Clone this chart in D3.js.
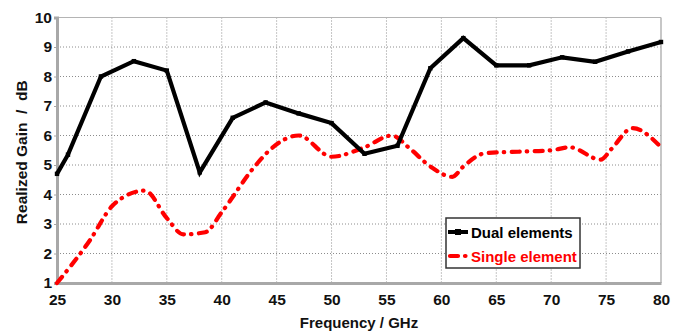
<!DOCTYPE html>
<html>
<head>
<meta charset="utf-8">
<script src="https://cdn.jsdelivr.net/npm/d3@7"></script>
<style>
  html, body { margin: 0; padding: 0; background: #fff; }
  svg { display: block; font-family: "Liberation Sans", Arial, sans-serif; font-weight: bold; }
</style>
</head>
<body>
<svg id="chart" width="688" height="333"></svg>
<script>
// Realized gain vs frequency for the dual-element and single-element antennas
const dualFreq  = [25, 26, 29, 32, 35, 38, 41, 44, 47, 50, 53, 56, 59, 62, 65, 68, 71, 74, 77, 80];
const dualGain  = [4.7, 5.35, 8.0, 8.52, 8.2, 4.75, 6.6, 7.12, 6.75, 6.42, 5.38, 5.65, 8.28, 9.3, 8.38, 8.38, 8.65, 8.5, 8.85, 9.17];

const singleFreq = [25, 28, 30, 31, 33, 35, 36.5, 38.5, 40, 43, 44.5, 47, 50, 53, 55.5, 57, 59, 61, 62, 64, 67, 70, 71.7, 74.5, 75.5, 77.4, 80];
const singleGain = [1.0, 2.45, 3.6, 3.9, 4.13, 3.2, 2.65, 2.72, 3.4, 4.95, 5.55, 6.0, 5.28, 5.6, 6.0, 5.6, 4.95, 4.6, 4.95, 5.4, 5.45, 5.5, 5.6, 5.18, 5.55, 6.25, 5.6];

const xTicks = [25, 30, 35, 40, 45, 50, 55, 60, 65, 70, 75, 80];
const yTicks = [1, 2, 3, 4, 5, 6, 7, 8, 9, 10];

const seriesNames = ["Dual elements", "Single element"];
const xTitle = "Frequency / GHz";
const yTitle = "Realized Gain  /  dB";

const svg = d3.select("#chart");
const plot = { left: 57, right: 661, top: 17.5, bottom: 283 };

const x = d3.scaleLinear().domain([25, 80]).range([plot.left, plot.right]);
const y = d3.scaleLinear().domain([1, 10]).range([plot.bottom, plot.top]);

// dotted grid
const grid = svg.append("g");
grid.selectAll("line.v").data(xTicks.slice(1, -1)).join("line")
  .attr("x1", d => x(d)).attr("x2", d => x(d))
  .attr("y1", plot.top).attr("y2", plot.bottom)
  .attr("stroke", "#8c8c8c").attr("stroke-width", 1).attr("stroke-dasharray", "1,2");
grid.selectAll("line.h").data(yTicks.slice(1, -1)).join("line")
  .attr("x1", plot.left).attr("x2", plot.right)
  .attr("y1", d => y(d)).attr("y2", d => y(d))
  .attr("stroke", "#8c8c8c").attr("stroke-width", 1).attr("stroke-dasharray", "1,2");

// frame
svg.append("line").attr("x1", plot.left).attr("x2", plot.right).attr("y1", plot.top).attr("y2", plot.top)
  .attr("stroke", "#b4b4b4").attr("stroke-width", 1.2);
svg.append("line").attr("x1", plot.right).attr("x2", plot.right).attr("y1", plot.top).attr("y2", plot.bottom)
  .attr("stroke", "#b4b4b4").attr("stroke-width", 1.5);

// axes
const xAxis = d3.axisBottom(x).tickValues(xTicks).tickSize(0).tickPadding(11);
const yAxis = d3.axisLeft(y).tickValues(yTicks).tickSize(3).tickPadding(2);

const gx = svg.append("g").attr("transform", `translate(0,${plot.bottom})`).call(xAxis);
const gy = svg.append("g").attr("transform", `translate(${plot.left},0)`).call(yAxis);
gy.selectAll(".tick line").attr("stroke", "#a8a8a8");
[gx, gy].forEach(g => {
  g.select(".domain").attr("stroke", "#a8a8a8").attr("stroke-width", 3);
  g.selectAll("text").attr("fill", "#111").attr("font-size", 15.5).attr("font-weight", "bold")
    .attr("font-family", "'Liberation Sans', Arial, sans-serif");
});

// axis titles
svg.append("text").attr("x", (plot.left + plot.right) / 2).attr("y", 328)
  .attr("text-anchor", "middle").attr("font-size", 15).attr("fill", "#111").text(xTitle);
svg.append("text").attr("transform", `translate(27,${(plot.top + plot.bottom) / 2 + 2}) rotate(-90)`)
  .attr("text-anchor", "middle").attr("font-size", 15.5).attr("fill", "#111")
  .style("white-space", "pre").text(yTitle);

// series
const dual = dualFreq.map((f, i) => [f, dualGain[i]]);
const single = singleFreq.map((f, i) => [f, singleGain[i]]);

svg.append("path").datum(single)
  .attr("d", d3.line().x(d => x(d[0])).y(d => y(d[1])).curve(d3.curveMonotoneX))
  .attr("fill", "none").attr("stroke", "#ff0000").attr("stroke-width", 4.2)
  .attr("stroke-linecap", "round").attr("stroke-dasharray", "8,7,0.5,7.5");

svg.append("path").datum(dual)
  .attr("d", d3.line().x(d => x(d[0])).y(d => y(d[1])))
  .attr("fill", "none").attr("stroke", "#000").attr("stroke-width", 4.2)
  .attr("stroke-linejoin", "miter");

svg.append("g").selectAll("rect").data(dual).join("rect")
  .attr("x", d => x(d[0]) - 2.2).attr("y", d => y(d[1]) - 2.2)
  .attr("width", 4.4).attr("height", 4.4).attr("fill", "#000");

// legend
const lg = svg.append("g");
lg.append("rect").attr("x", 446).attr("y", 218).attr("width", 134).attr("height", 50)
  .attr("fill", "#fff").attr("stroke", "#333").attr("stroke-width", 1.5);
lg.append("line").attr("x1", 448).attr("x2", 468).attr("y1", 232).attr("y2", 232)
  .attr("stroke", "#000").attr("stroke-width", 4);
lg.append("rect").attr("x", 455).attr("y", 229).attr("width", 6).attr("height", 6).attr("fill", "#000");
lg.append("line").attr("x1", 450).attr("x2", 468).attr("y1", 256).attr("y2", 256)
  .attr("stroke", "#ff0000").attr("stroke-width", 4.2).attr("stroke-linecap", "round")
  .attr("stroke-dasharray", "8,7,0.5,7.5");
lg.append("text").attr("x", 471).attr("y", 237.5).attr("font-size", 15).attr("fill", "#000").text(seriesNames[0]);
lg.append("text").attr("x", 471).attr("y", 261.5).attr("font-size", 15).attr("fill", "#ff0000").text(seriesNames[1]);
</script>
</body>
</html>
